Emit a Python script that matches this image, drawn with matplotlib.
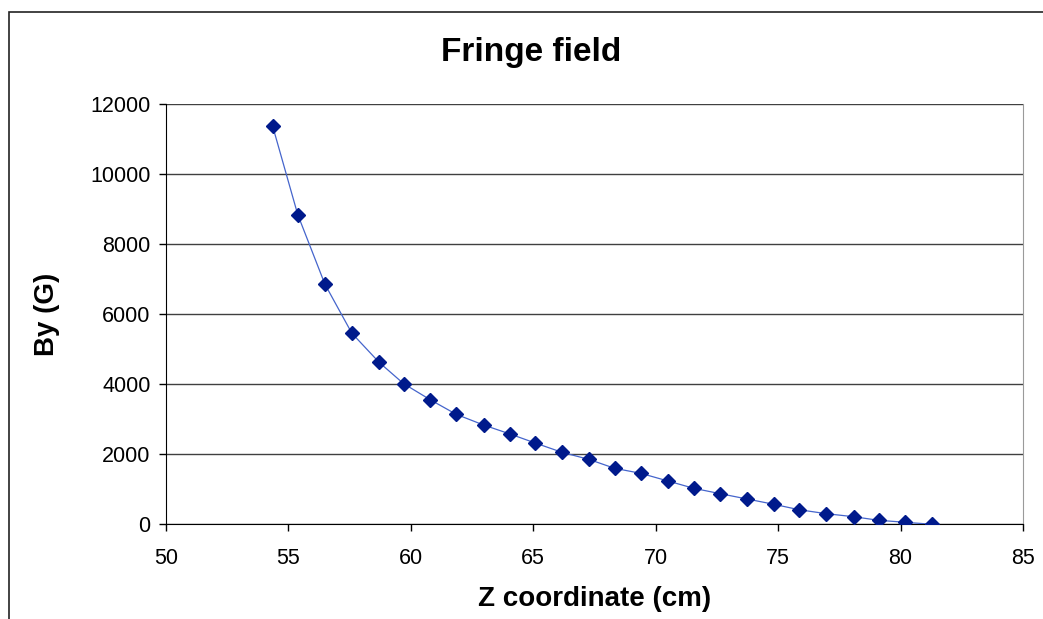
import matplotlib
matplotlib.use("Agg")
import matplotlib.pyplot as plt
from matplotlib.patches import Rectangle

plt.rcParams['font.family'] = ['Liberation Sans', 'DejaVu Sans']

# Z position (cm) and field By (G)
z_cm = [54.35, 55.38, 56.49, 57.59, 58.70, 59.70, 60.80, 61.86, 62.97, 64.05,
        65.09, 66.18, 67.27, 68.32, 69.40, 70.50, 71.55, 72.64, 73.73, 74.83,
        75.85, 76.97, 78.08, 79.11, 80.20, 81.29]
by_gauss = [11390, 8850, 6860, 5460, 4630, 4020, 3555, 3140, 2837, 2580,
            2320, 2055, 1855, 1600, 1455, 1237, 1029, 874, 723, 571,
            417, 303, 217, 114, 57, 0]

x_ticks = [50, 55, 60, 65, 70, 75, 80, 85]
y_ticks = [0, 2000, 4000, 6000, 8000, 10000, 12000]

fig = plt.figure(figsize=(10.43, 6.19), dpi=100)

# chart area border (runs off the right and bottom edge)
fig.patches.append(Rectangle((9 / 1043, -0.1), 1.2, (619 - 12) / 619 + 0.1,
                             transform=fig.transFigure, fill=False,
                             edgecolor='#222222', linewidth=1.2))

ax = fig.add_axes([166 / 1043, (619 - 524.3) / 619, 857 / 1043, 420 / 619])

ax.plot(z_cm, by_gauss, color='#4565cc', linewidth=0.9, marker='D',
        markersize=7, markerfacecolor='#001a8c', markeredgecolor='#001a8c',
        zorder=3)

ax.set_xlim(50, 85)
ax.set_ylim(0, 12000)
ax.set_xticks(x_ticks)
ax.set_yticks(y_ticks)
ax.yaxis.grid(True, color='#404040', linewidth=1)
ax.set_axisbelow(True)

for side in ['top', 'right']:
    ax.spines[side].set_color('#9a9a9a')
for side in ['left', 'bottom']:
    ax.spines[side].set_color('black')
ax.spines['top'].set_visible(False)

ax.tick_params(axis='both', direction='out', length=5, width=1,
               labelsize=15.5, color='black', pad=6)
ax.tick_params(axis='x', pad=12)

ax.set_xlabel("Z coordinate (cm)", fontsize=20, fontweight='bold', labelpad=12)
ax.set_ylabel("By (G)", fontsize=20, fontweight='bold', labelpad=22)

fig.text(531 / 1043, 1 - 52 / 619, "Fringe field", fontsize=24,
         fontweight='bold', ha='center', va='center')

fig.savefig("out.png", dpi=100)
